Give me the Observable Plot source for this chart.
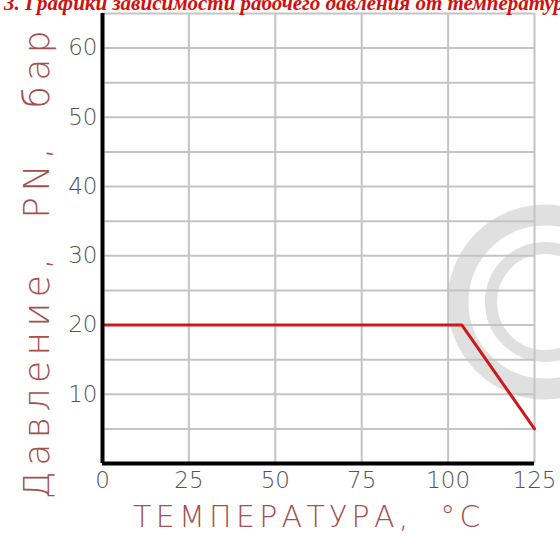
<!DOCTYPE html>
<html><head><meta charset="utf-8">
<script src="https://cdn.jsdelivr.net/npm/d3@7"></script>
<script src="https://cdn.jsdelivr.net/npm/@observablehq/plot@0.6"></script>
<style>
body{margin:0;background:#fff;}
#wrap{position:relative;width:560px;height:537px;overflow:hidden;background:#fff;}
#wm{position:absolute;left:0;top:0;}
#plot{position:absolute;left:0;top:0;}
#title{position:absolute;left:4px;top:-9px;font:italic bold 21px "Liberation Serif";color:#d01010;white-space:nowrap;}
#xlab{position:absolute;left:133px;top:499px;font:300 30px "DejaVu Sans";color:#a3504e;letter-spacing:4.3px;white-space:pre;}
#ylab{position:absolute;left:36px;top:262px;transform:translate(-50%,-50%) rotate(-90deg);font:300 36px "DejaVu Sans";color:#a3504e;letter-spacing:5.5px;white-space:pre;}
</style></head>
<body><div id="wrap">
<svg id="wm" width="560" height="537"><circle cx="545" cy="302" r="87" fill="none" stroke="#e0e0e0" stroke-width="21"/><circle cx="545" cy="302" r="54" fill="none" stroke="#e0e0e0" stroke-width="12"/></svg>
<div id="plot"></div>
<div id="title">3. Графики зависимости рабочего давления от температуры</div>
<div id="xlab">ТЕМПЕРАТУРА,  °С</div>
<div id="ylab">Давление,  PN,  бар</div>
</div>
<script>
const temperature = [0, 104, 125];
const pressure = [20, 20, 5];
const xTicks = [0, 25, 50, 75, 100, 125];
const yTicks = [10, 20, 30, 40, 50, 60];
const yGrid = [5, 10, 15, 20, 25, 30, 35, 40, 45, 50, 55, 60, 65];
const xGrid = [25, 50, 75, 100, 125];

const data = temperature.map((t, i) => ({t, p: pressure[i]}));

const chart = Plot.plot({
  width: 560, height: 537,
  marginTop: 13, marginLeft: 102, marginRight: 26, marginBottom: 74,
  style: {background: "transparent", fontFamily: "DejaVu Sans"},
  x: {domain: [0, 125]},
  y: {domain: [0, 65]},
  marks: [
    Plot.gridY(yGrid, {stroke: "#c4c4c4", strokeOpacity: 1, strokeWidth: 2}),
    Plot.gridX(xGrid, {stroke: "#c4c4c4", strokeOpacity: 1, strokeWidth: 2}),
    Plot.axisX(xTicks, {tickSize: 0, tickPadding: 8, fontSize: 23, fontWeight: 300, fill: "#555", label: null}),
    Plot.axisY(yTicks, {tickSize: 0, tickPadding: 5, fontSize: 23, fontWeight: 300, fill: "#555", label: null}),
    Plot.line(data, {x: "t", y: "p", stroke: "#cc1a1a", strokeWidth: 3}),
    Plot.ruleX([0], {stroke: "#000", strokeWidth: 4}),
    Plot.ruleY([0], {stroke: "#000", strokeWidth: 4})
  ]
});
document.getElementById("plot").appendChild(chart);
</script>
</body></html>
